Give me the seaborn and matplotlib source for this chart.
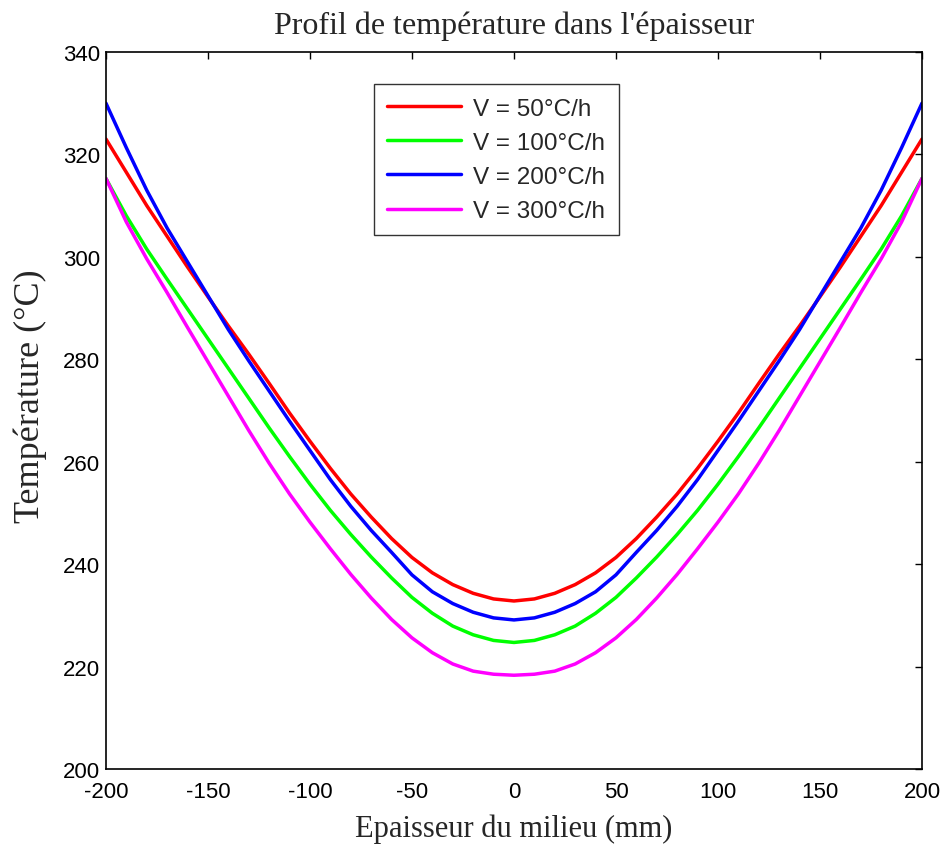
import matplotlib
matplotlib.use("Agg")
import matplotlib.pyplot as plt
import pandas as pd
import seaborn as sns

# thickness position (mm)
x_mm = list(range(-200, 201, 10))

# temperature (°C) for each heating rate
t_50 = [323.0, 316.5, 310.0, 304.0, 298.0, 292.2, 286.5, 281.0, 275.3, 269.5, 264.0,
        258.7, 253.7, 249.2, 245.0, 241.3, 238.3, 236.0, 234.3, 233.2, 232.8,
        233.2, 234.3, 236.0, 238.3, 241.3, 245.0, 249.2, 253.7, 258.7, 264.0,
        269.5, 275.3, 281.0, 286.5, 292.2, 298.0, 304.0, 310.0, 316.5, 323.0]
t_100 = [315.3, 308.0, 301.5, 295.6, 289.8, 284.0, 278.2, 272.4, 266.6, 261.0, 255.6,
         250.5, 245.8, 241.4, 237.3, 233.5, 230.4, 227.9, 226.2, 225.1, 224.7,
         225.1, 226.2, 227.9, 230.4, 233.5, 237.3, 241.4, 245.8, 250.5, 255.6,
         261.0, 266.6, 272.4, 278.2, 284.0, 289.8, 295.6, 301.5, 308.0, 315.3]
t_200 = [330.0, 321.3, 313.0, 305.6, 299.0, 292.4, 285.8, 279.7, 273.8, 267.9, 262.2,
         256.5, 251.3, 246.6, 242.3, 237.9, 234.6, 232.3, 230.6, 229.5, 229.1,
         229.5, 230.6, 232.3, 234.6, 237.9, 242.3, 246.6, 251.3, 256.5, 262.2,
         267.9, 273.8, 279.7, 285.8, 292.4, 299.0, 305.6, 313.0, 321.3, 330.0]
t_300 = [315.3, 306.8, 299.6, 293.0, 286.2, 279.5, 272.8, 266.1, 259.7, 253.7, 248.2,
         243.0, 238.0, 233.4, 229.2, 225.6, 222.7, 220.5, 219.1, 218.5, 218.3,
         218.5, 219.1, 220.5, 222.7, 225.6, 229.2, 233.4, 238.0, 243.0, 248.2,
         253.7, 259.7, 266.1, 272.8, 279.5, 286.2, 293.0, 299.6, 306.8, 315.3]

labels = ["V = 50°C/h", "V = 100°C/h", "V = 200°C/h", "V = 300°C/h"]
colors = ["#ff0000", "#00ff00", "#0000ff", "#ff00ff"]

df = pd.concat([
    pd.DataFrame({"x": x_mm, "T": t, "V": lab})
    for t, lab in zip([t_50, t_100, t_200, t_300], labels)
])

sns.set_style("white")
plt.rcParams["font.family"] = ["Liberation Sans", "DejaVu Sans"]
plt.rcParams["axes.unicode_minus"] = False

fig = plt.figure(figsize=(9.46, 8.45), dpi=100)
ax = fig.add_axes([0.112, 0.0888, 0.8626, 0.8485])

sns.lineplot(data=df, x="x", y="T", hue="V", palette=colors, hue_order=labels,
             linewidth=2.5, ax=ax, sort=False)

ax.set_xlim(-200, 200)
ax.set_ylim(200, 340)
ax.set_xticks(range(-200, 201, 50))
ax.set_yticks(range(200, 341, 20))
ax.tick_params(direction="in", length=5, width=1, top=True, right=True,
               labelsize=16, colors="black")
ax.tick_params(axis="x", pad=9)
ax.tick_params(axis="y", pad=4)
for s in ax.spines.values():
    s.set_color("black")
    s.set_linewidth(1.2)

serif = ["Liberation Serif", "DejaVu Serif"]
ax.set_title("Profil de température dans l'épaisseur", family=serif, fontsize=23, pad=14)
ax.set_xlabel("Epaisseur du milieu (mm)", family=serif, fontsize=22, labelpad=8)
ax.set_ylabel("Température (°C)", family=serif, fontsize=26, labelpad=12, y=0.522)

leg = ax.legend(loc="upper left", bbox_to_anchor=(0.328, 0.955), borderaxespad=0,
                fontsize=17.5, handlelength=3.05, handletextpad=0.5, labelspacing=0.5,
                frameon=True, fancybox=False, edgecolor="black", borderpad=0.55)
leg.get_frame().set_linewidth(1.0)

fig.savefig("out.png", dpi=100)
